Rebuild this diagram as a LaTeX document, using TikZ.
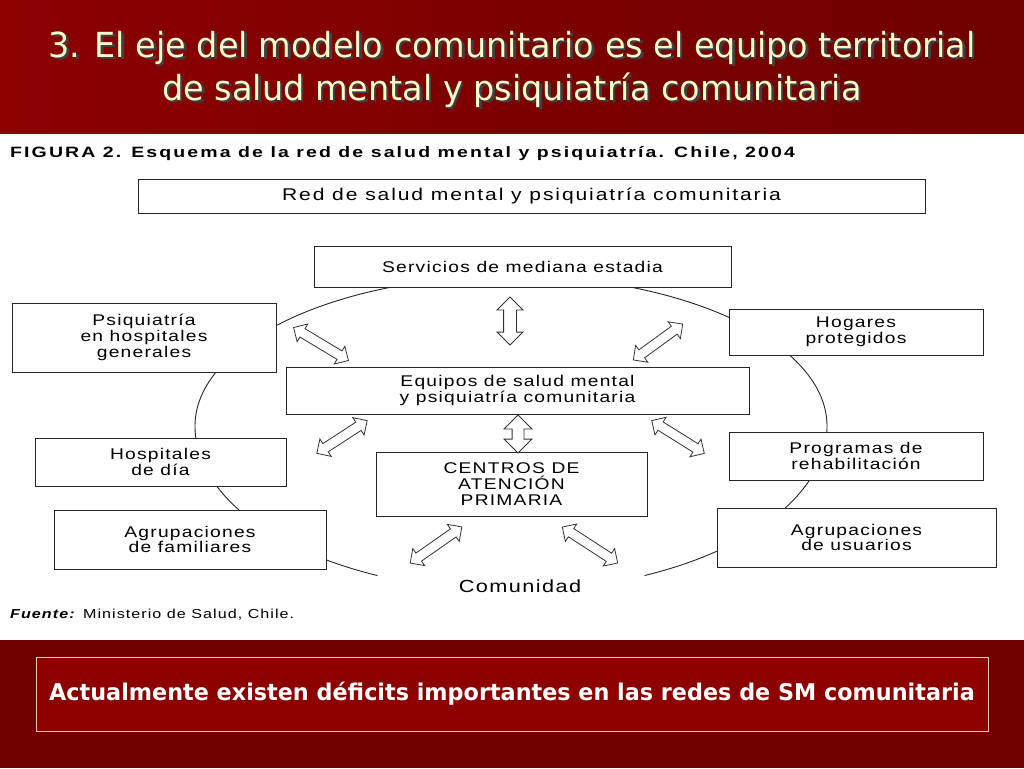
\documentclass[tikz,border=0pt]{standalone}
\usepackage{fontspec}
\setmainfont{Liberation Sans}
\newfontfamily\figfont[FakeStretch=1.24, LetterSpace=8]{Liberation Sans}
\newfontfamily\figbold[FakeStretch=1.3, LetterSpace=14]{Liberation Sans}
\newfontfamily\slidefont[FakeStretch=0.97]{DejaVu Sans}
\usetikzlibrary{shapes.arrows}

\definecolor{vino}{RGB}{140,0,0}
\definecolor{vinoosc}{RGB}{110,0,0}
\definecolor{crema}{RGB}{255,255,204}
\definecolor{borde}{RGB}{236,200,176}

\begin{document}
\begin{tikzpicture}[x=1pt,y=1pt,
  caja/.style={draw=black!85, line width=0.9pt, fill=white, align=center,
    inner sep=0pt, font=\figfont\fontsize{15.5}{15.8}\selectfont},
  flecha/.style={double arrow, draw=black!80, line width=0.8pt, fill=white,
    inner xsep=0pt, inner ysep=4.5pt, double arrow head extend=5.5pt},
  anillo/.style={draw=black!85, line width=0.9pt},
  titulo/.style={font=\slidefont\fontsize{34.5}{43}\selectfont, align=center}]
  \useasboundingbox (0,0) rectangle (1024,-768);
  \shade[left color=vino, right color=vinoosc] (0,0) rectangle (1024,-133);
  \fill[vinoosc] (0,-640) rectangle (1024,-768);

  \node[titulo, text=black!75] (sombra) at (514.5,-71.5)
    {3. El eje del modelo comunitario es el equipo territorial\\de salud mental y psiquiatría comunitaria};
  \node[titulo, text=crema] (titulo) at (512,-69)
    {3. El eje del modelo comunitario es el equipo territorial\\de salud mental y psiquiatría comunitaria};

  \node[anchor=base west, inner sep=0pt, font=\figbold\fontsize{15}{15}\selectfont\bfseries]
    (figura) at (10,-157) {FIGURA 2. Esquema de la red de salud mental y psiquiatría. Chile, 2004};

  % anillo de la comunidad
  \draw[anillo] (195,-426) arc[start angle=180, end angle=0, x radius=316, y radius=150];
  \draw[anillo] (827,-426) arc[start angle=0, end angle=-65, x radius=316, y radius=165];
  \draw[anillo] (195,-426) arc[start angle=180, end angle=245, x radius=316, y radius=165];

  \node[caja, minimum width=787, minimum height=34, font=\figfont\fontsize{17}{17}\selectfont\addfontfeatures{LetterSpace=11}]
    (red) at (531.5,-196) {Red de salud mental y psiquiatría comunitaria};
  \node[caja, minimum width=417, minimum height=41] (medestadia) at (522.5,-266.5)
    {Servicios de mediana estadia};
  \node[caja, minimum width=264, minimum height=69] (psiqhosp) at (144,-337.5)
    {Psiquiatría\\en hospitales\\generales};
  \node[caja, minimum width=254, minimum height=46] (hogares) at (856,-332)
    {Hogares\\protegidos};
  \node[caja, minimum width=463, minimum height=47] (equipos) at (517.5,-390.5)
    {Equipos de salud mental\\y psiquiatría comunitaria};
  \node[caja, minimum width=251, minimum height=48] (hospdia) at (160.5,-462)
    {Hospitales\\de día};
  \node[caja, minimum width=254, minimum height=48] (rehab) at (856,-456)
    {Programas de\\rehabilitación};
  \node[caja, minimum width=271, minimum height=64] (aps) at (511.5,-484)
    {CENTROS DE\\ATENCIÓN\\PRIMARIA};
  \node[caja, minimum width=272, minimum height=59] (familiares) at (190,-539.5)
    {Agrupaciones\\de familiares};
  \node[caja, minimum width=279, minimum height=59] (usuarios) at (856.5,-537.5)
    {Agrupaciones\\de usuarios};
  \node[font=\figfont\fontsize{17.5}{17.5}\selectfont] (comunidad) at (520,-586) {Comunidad};

  \node[flecha, minimum height=48, rotate=90, inner ysep=6pt, double arrow head extend=6.5pt] (f1) at (510,-321) {};
  \node[flecha, minimum height=64, rotate=-31] (f2) at (321,-344) {};
  \node[flecha, minimum height=61, rotate=36] (f3) at (658,-342) {};
  \node[flecha, minimum height=60, rotate=33] (f4) at (342,-437) {};
  \node[flecha, minimum height=38, rotate=90, inner ysep=5.5pt, double arrow head extend=8pt] (f5) at (518,-434) {};
  \node[flecha, minimum height=62, rotate=-32] (f6) at (678,-437) {};
  \node[flecha, minimum height=63, rotate=35] (f7) at (436,-545) {};
  \node[flecha, minimum height=66, rotate=-33] (f8) at (590,-545) {};

  \node[anchor=base west, inner sep=0pt, font=\figfont\fontsize{13}{13}\selectfont]
    (fuente) at (10,-618) {\textbf{\textit{Fuente:}} Ministerio de Salud, Chile.};

  \node[draw=borde, line width=0.8pt, fill=vino, minimum width=952, minimum height=74,
    text=white, font=\slidefont\fontsize{23}{23}\selectfont\bfseries] (aviso) at (512,-694)
    {Actualmente existen déficits importantes en las redes de SM comunitaria};
\end{tikzpicture}
\end{document}
